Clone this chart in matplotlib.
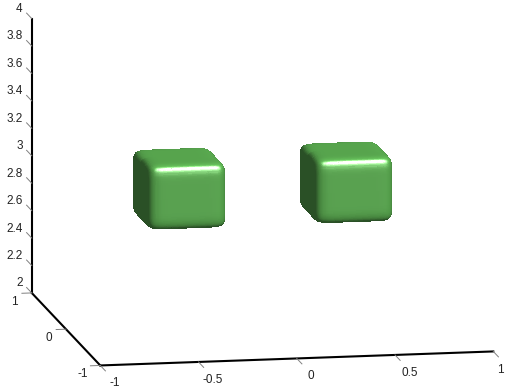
import numpy as np
import matplotlib
matplotlib.use('Agg')
import matplotlib.pyplot as plt
from mpl_toolkits.mplot3d import proj3d

plt.rcParams['font.family'] = ['Liberation Sans', 'DejaVu Sans']

x_ticks = [-1, -0.5, 0, 0.5, 1]
y_ticks = [-1, 0, 1]
z_ticks = [2, 2.2, 2.4, 2.6, 2.8, 3, 3.2, 3.4, 3.6, 3.8, 4]

blob_centers = [(-0.425, 0.0, 2.995), (0.425, 0.0, 2.998)]
blob_half = (0.2, 0.26, 0.235)
blob_power = 9.0


def blob(center, half, p):
    # superquadric rounded box, returns surface and normals
    e = 2.0 / p
    u = np.linspace(-np.pi / 2, np.pi / 2, 121)
    v = np.linspace(-np.pi, np.pi, 241)
    u, v = np.meshgrid(u, v)
    sp = lambda t: np.sign(t) * np.abs(t) ** e
    ex = sp(np.cos(u)) * sp(np.cos(v))
    ey = sp(np.cos(u)) * sp(np.sin(v))
    ez = sp(np.sin(u)) * np.ones_like(v)
    nx = np.sign(ex) * np.abs(ex) ** (p - 1) / half[0]
    ny = np.sign(ey) * np.abs(ey) ** (p - 1) / half[1]
    nz = np.sign(ez) * np.abs(ez) ** (p - 1) / half[2]
    n = np.stack([nx, ny, nz], axis=-1)
    n /= np.linalg.norm(n, axis=-1, keepdims=True)
    return center[0] + half[0] * ex, center[1] + half[1] * ey, center[2] + half[2] * ez, n


def shade(n, elev, azim):
    view = np.array([np.cos(np.radians(elev)) * np.cos(np.radians(azim)),
                     np.cos(np.radians(elev)) * np.sin(np.radians(azim)),
                     np.sin(np.radians(elev))])
    light = np.array([0.22, -0.62, 0.72])
    light /= np.linalg.norm(light)
    h = light + view
    h /= np.linalg.norm(h)
    diff = np.clip(n @ light, 0, 1)
    spec = np.clip(n @ h, 0, 1) ** 22
    base = np.array([0.36, 0.68, 0.32])
    rgb = base[None, None, :] * (0.46 + 0.66 * diff)[..., None] + 0.85 * spec[..., None]
    rgb = np.clip(rgb, 0, 1)
    return np.dstack([rgb, np.ones(rgb.shape[:2])])


elev, azim = 11.2, -100.4

fig = plt.figure(figsize=(5.05, 3.89), dpi=100)
ax = fig.add_axes([-45.6 / 505, -104.1 / 389, 600 / 505, 600 / 389], projection='3d', proj_type='ortho')
ax.patch.set_alpha(0)
ax.view_init(elev=elev, azim=azim)
ax.set_xlim(-1, 1, view_margin=0)
ax.set_ylim(-1, 1, view_margin=0)
ax.set_zlim(2, 4, view_margin=0)
ax.set_box_aspect((400, 380, 280), zoom=1.0)
ax.set_xticks([])
ax.set_yticks([])
ax.set_zticks([])
ax.set_axis_off()


def label(x, y, z, s, ha='center'):
    # place the label at its projected spot, as plain 2d text
    px, py, _ = proj3d.proj_transform(x, y, z, ax.get_proj())
    ax.text2D(px, py, s, transform=ax.transData, ha=ha, va='center', fontsize=8.5, color='#222222')


for c in blob_centers:
    X, Y, Z, n = blob(c, blob_half, blob_power)
    ax.plot_surface(X, Y, Z, facecolors=shade(n, elev, azim), rstride=1, cstride=1,
                    shade=False, linewidth=0, antialiased=False)

# axis lines
ax.plot([-1, 1], [-1, -1], [2, 2], color='k', lw=1.5)
ax.plot([-1, -1], [-1, 1], [2, 2], color='k', lw=1.5)
ax.plot([-1, -1], [1, 1], [2, 4], color='k', lw=1.5)

tc = '#808080'
for t in x_ticks:
    ax.plot([t, t], [-1, -1.15], [2, 2], color=tc, lw=0.7)
    # last label would run off the figure, pull it in
    lx = t - 0.035 if t == 1 else t
    label(lx, -1.42, 1.98, str(t))
for t in y_ticks:
    ax.plot([-1, -1.05], [t, t], [2, 2], color=tc, lw=0.7)
    label(-1.09, t, 1.94, str(t))
for t in z_ticks:
    ax.plot([-1, -1], [1, 1.15], [t, t], color=tc, lw=0.7)
    label(-0.994, 1.3, t - 0.01, str(t), ha='right')

fig.savefig('out.png', dpi=100)
